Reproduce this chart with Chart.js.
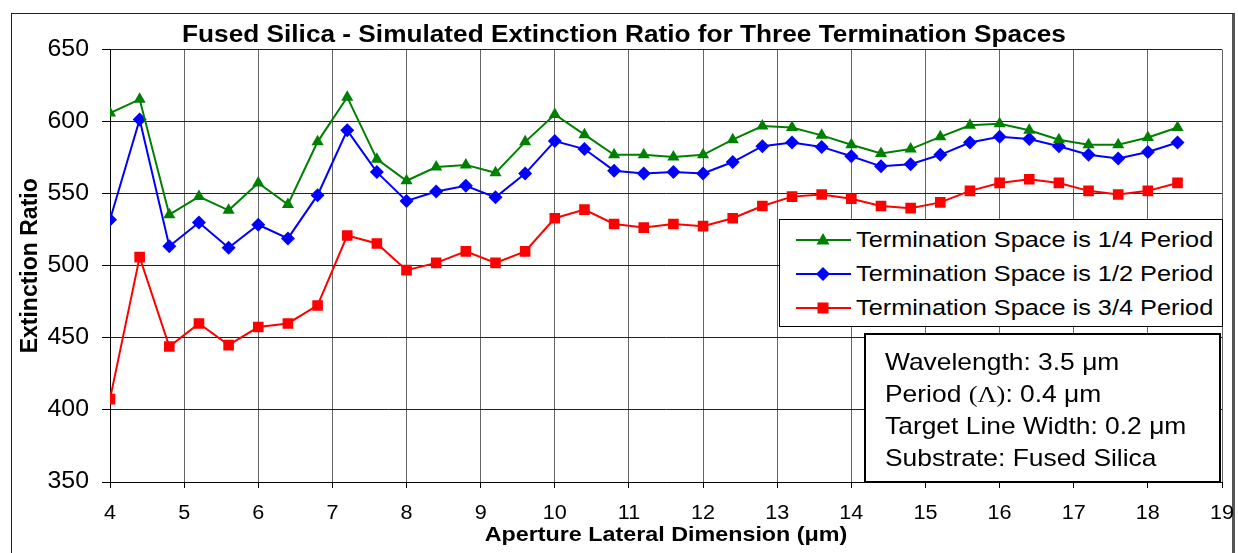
<!DOCTYPE html>
<html>
<head>
<meta charset="utf-8">
<script src="https://cdn.jsdelivr.net/npm/chart.js@4"></script>
<style>
  html, body { margin:0; padding:0; background:#fff; }
  #wrap { position:relative; width:1238px; height:553px; overflow:hidden; font-family:"Liberation Sans", Arial, sans-serif; }
  #frame { position:absolute; left:11px; top:13px; width:1224px; height:600px; border:1px solid #222; border-right:3px solid #555; box-sizing:border-box; }
  canvas { position:absolute; left:0; top:0; }
  #legend { position:absolute; left:779px; top:219px; width:444px; height:108px; background:#fff; border:1px solid #000; box-sizing:border-box; }
  .row { position:absolute; left:16px; height:30px; display:flex; align-items:center; font-size:22px; color:#000; white-space:nowrap; }
  .row svg { margin-right:5px; flex:none; }
  .row span { display:inline-block; transform:scaleX(1.15); transform-origin:left center; }
  #info { position:absolute; left:864px; top:333px; width:357px; height:150px; background:#fff; border:2px solid #000; box-sizing:border-box; padding:11px 0 0 19px; font-size:24px; line-height:32px; color:#000; white-space:nowrap; }
  #info div { transform:scaleX(1.1); transform-origin:left center; }
  .serif { font-family:"Liberation Serif", "Times New Roman", serif; }
</style>
</head>
<body>
<div id="wrap">
  <div id="frame"></div>
  <canvas id="c" width="1238" height="553"></canvas>
  <div id="legend"></div>
  <div id="info">
    <div>Wavelength: 3.5 μm</div>
    <div>Period <span class="serif">(Λ)</span>: 0.4 μm</div>
    <div>Target Line Width: 0.2 μm</div>
    <div>Substrate: Fused Silica</div>
  </div>
</div>
<script>
const apertures = [4.0, 4.4, 4.8, 5.2, 5.6, 6.0, 6.4, 6.8, 7.2, 7.6, 8.0, 8.4, 8.8, 9.2, 9.6, 10.0, 10.4, 10.8, 11.2, 11.6, 12.0, 12.4, 12.8, 13.2, 13.6, 14.0, 14.4, 14.8, 15.2, 15.6, 16.0, 16.4, 16.8, 17.2, 17.6, 18.0, 18.4];
const quarterPeriod = [606, 615.5, 535.5, 548, 538.5, 557.5, 542.5, 586, 617, 574, 559, 568.5, 570, 564.5, 586, 605, 591, 577, 577, 575.5, 577, 587.5, 597, 596, 590.5, 584, 578, 581, 589.5, 597.5, 598.5, 594, 587.5, 584, 584, 589, 596];
const halfPeriod = [532, 601.5, 513.5, 530, 512.5, 528.5, 519, 549, 594, 565, 545, 551.5, 555.5, 547.5, 564, 586.5, 581, 566, 564, 565, 564, 572, 583, 585.5, 582.5, 576, 569, 570.5, 577, 585.5, 589.5, 588, 583, 577, 574.5, 579, 585.5];
const threeQuarterPeriod = [407.5, 506, 444, 460, 445, 457.5, 460, 472.5, 521, 515.5, 497, 502, 510, 502, 510, 533, 539, 529, 526.5, 529, 527.5, 533, 541.5, 548, 549.5, 546.5, 541.5, 540, 544, 552, 557.5, 560, 557.5, 552, 549.5, 552, 557.5];
const seriesNames = ["Termination Space is 1/4 Period", "Termination Space is 1/2 Period", "Termination Space is 3/4 Period"];
const xTicks = [4, 5, 6, 7, 8, 9, 10, 11, 12, 13, 14, 15, 16, 17, 18, 19];
const yTicks = [350, 400, 450, 500, 550, 600, 650];

const FONT = '"Liberation Sans", Arial, sans-serif';
const TITLE_SIZE = 23, XTITLE_SIZE = 21, YTITLE_SIZE = 23, YTICK_SIZE = 23, XTICK_SIZE = 20;

const canvas = document.getElementById('c');
const ctx2d = canvas.getContext('2d');
// Widen horizontal canvas text slightly, as in the reference rendering
function stretchFor(font) {
  const bold = /bold|700/.test(font);
  const m = font.match(/(\d+(?:\.\d+)?)px/);
  const size = m ? +m[1] : 0;
  if (bold && size === TITLE_SIZE) return 1.14;
  if (bold && size === XTITLE_SIZE) return 1.11;
  if (!bold && size === YTICK_SIZE) return 1.08;
  if (!bold && size === XTICK_SIZE) return 1.08;
  return 1;
}
const origFill = ctx2d.fillText;
ctx2d.fillText = function (text, x, y, maxWidth) {
  const k = stretchFor(this.font);
  const t = this.getTransform();
  if (k === 1 || Math.abs(t.b) > 1e-6 || Math.abs(t.c) > 1e-6) {
    return maxWidth === undefined ? origFill.call(this, text, x, y) : origFill.call(this, text, x, y, maxWidth);
  }
  this.save();
  this.translate(x, y);
  this.scale(k, 1);
  if (maxWidth === undefined) origFill.call(this, text, 0, 0);
  else origFill.call(this, text, 0, 0, maxWidth / k);
  this.restore();
};

const styles = [
  {color:'#008000', shape:'triangle', r:7},
  {color:'#0000ff', shape:'rectRot', r:7},
  {color:'#ff0000', shape:'rect', r:7.5}
];
const values = [quarterPeriod, halfPeriod, threeQuarterPeriod];

const datasets = values.map((arr, i) => ({
  label: seriesNames[i],
  data: arr.map((v, j) => ({x: apertures[j], y: v})),
  borderColor: styles[i].color,
  backgroundColor: styles[i].color,
  pointStyle: styles[i].shape,
  pointRadius: styles[i].r,
  pointHoverRadius: styles[i].r,
  pointBorderWidth: 0,
  borderWidth: 2,
  tension: 0
}));

new Chart(canvas, {
  type: 'line',
  data: { datasets },
  options: {
    responsive: false,
    animation: false,
    devicePixelRatio: 1,
    layout: { padding: { left: 26, right: 16, top: 20, bottom: 0 } },
    plugins: {
      legend: { display: false },
      tooltip: { enabled: false },
      title: {
        display: true,
        text: 'Fused Silica - Simulated Extinction Ratio for Three Termination Spaces',
        color: '#000',
        font: { family: FONT, size: TITLE_SIZE, weight: 'bold' },
        padding: { top: 2, bottom: 0 }
      }
    },
    scales: {
      x: {
        type: 'linear',
        min: xTicks[0], max: xTicks[xTicks.length - 1],
        afterBuildTicks: s => { s.ticks = xTicks.map(v => ({value: v})); },
        afterFit: s => { s.height = 71; s.paddingLeft = 0; s.paddingRight = 0; },
        ticks: { color: '#000', font: { family: FONT, size: XTICK_SIZE }, padding: 13, maxRotation: 0 },
        grid: { color: '#666', lineWidth: 1, tickLength: 6, tickColor: '#000' },
        border: { color: '#000', width: 1 },
        title: { display: true, text: 'Aperture Lateral Dimension (μm)', color: '#000',
                 font: { family: FONT, size: XTITLE_SIZE, weight: 'bold' }, padding: { top: 0, bottom: 5 } }
      },
      y: {
        min: yTicks[0], max: yTicks[yTicks.length - 1],
        afterBuildTicks: s => { s.ticks = yTicks.map(v => ({value: v})); },
        afterFit: s => { s.width = 84; },
        ticks: { color: '#000', font: { family: FONT, size: YTICK_SIZE }, padding: 13 },
        grid: { color: '#222', lineWidth: 1, tickLength: 8, tickColor: '#000' },
        border: { color: '#000', width: 1 },
        title: { display: true, text: 'Extinction Ratio', color: '#000',
                 font: { family: FONT, size: YTITLE_SIZE, weight: 'bold' }, padding: { top: -9, bottom: 0 } }
      }
    }
  }
});

// HTML legend
const legend = document.getElementById('legend');
const rowTops = [5, 39, 73];
function markerSVG(st) {
  let shape = '';
  const cx = 27, cy = 10, c = st.color;
  if (st.shape === 'triangle') shape = `<polygon points="${cx},${cy-7} ${cx+6.5},${cy+4.5} ${cx-6.5},${cy+4.5}" fill="${c}"/>`;
  else if (st.shape === 'rectRot') shape = `<polygon points="${cx},${cy-7} ${cx+7},${cy} ${cx},${cy+7} ${cx-7},${cy}" fill="${c}"/>`;
  else shape = `<rect x="${cx-5.5}" y="${cy-5.5}" width="11" height="11" fill="${c}"/>`;
  return `<svg width="55" height="20" viewBox="0 0 55 20"><line x1="0" y1="${cy}" x2="55" y2="${cy}" stroke="${c}" stroke-width="2"/>${shape}</svg>`;
}
seriesNames.forEach((name, i) => {
  const row = document.createElement('div');
  row.className = 'row';
  row.style.top = rowTops[i] + 'px';
  row.innerHTML = markerSVG(styles[i]) + '<span>' + name + '</span>';
  legend.appendChild(row);
});
</script>
</body>
</html>
